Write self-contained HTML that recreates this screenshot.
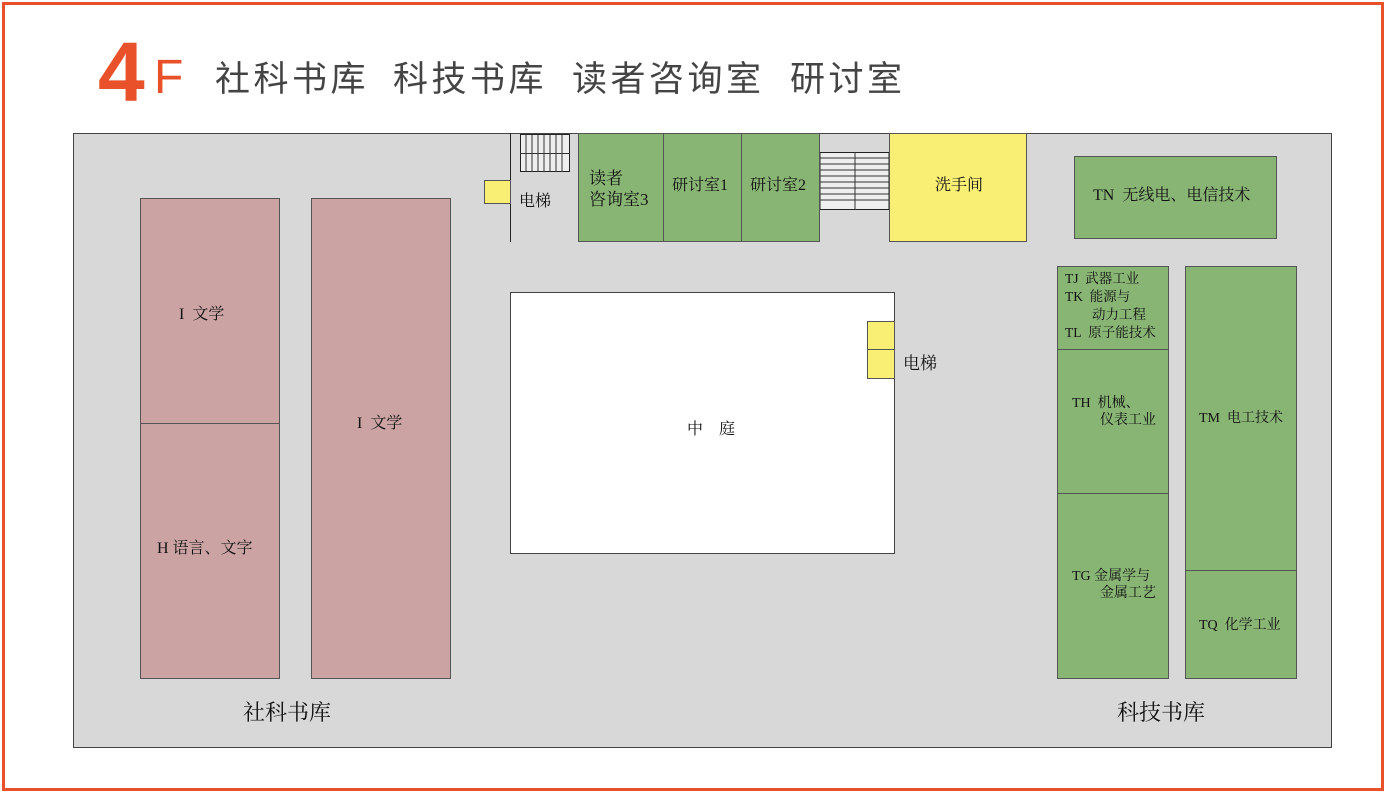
<!DOCTYPE html>
<html><head><meta charset="utf-8"><style>
body{margin:0;width:1387px;height:793px;position:relative;background:#fff;overflow:hidden;font-family:"Liberation Serif","Noto Serif CJK SC","Noto Sans CJK SC",serif;}
div{position:absolute;box-sizing:border-box;}
.t{font-size:15px;color:#111;white-space:nowrap;line-height:18px;}
.g{background:#88b574;border:1px solid #555;}
.r{background:#cba3a3;border:1px solid #555;}
.y{background:#f8ef74;border:1px solid #555;}
.h{top:59px;font-family:'Liberation Sans','Noto Sans CJK SC',sans-serif;font-size:35px;color:#444;line-height:42px;white-space:nowrap;letter-spacing:3.5px;}
</style></head><body>
<div style="left:2px;top:2px;width:1382px;height:789px;border:3px solid #e8512a;"></div>
<div style="left:98px;top:22px;font-family:'Liberation Sans',sans-serif;font-size:84px;font-weight:bold;color:#e8512a;line-height:100px;">4</div>
<div style="left:154px;top:48px;font-family:'Liberation Sans',sans-serif;font-size:48px;color:#e8512a;line-height:60px;">F</div>
<div class="h" style="left:215px;">社科书库</div>
<div class="h" style="left:393px;">科技书库</div>
<div class="h" style="left:572px;">读者咨询室</div>
<div class="h" style="left:790px;">研讨室</div>

<div style="left:73px;top:133px;width:1259px;height:615px;background:#d8d8d8;border:1px solid #444;"></div>
<div class="r" style="left:140px;top:198px;width:140px;height:481px;"></div>
<div style="left:140px;top:423px;width:140px;height:1px;background:#555;"></div>
<div class="r" style="left:311px;top:198px;width:140px;height:481px;"></div>
<div class="t" style="left:179px;top:306px;font-size:16px;">I&nbsp; 文学</div>
<div class="t" style="left:157px;top:540px;font-size:16px;">H 语言、文字</div>
<div class="t" style="left:357px;top:415px;font-size:16px;">I&nbsp; 文学</div>
<div class="t" style="left:243px;top:700px;font-size:22px;line-height:26px;">社科书库</div>
<div class="t" style="left:1117px;top:700px;font-size:22px;line-height:26px;">科技书库</div>
<div style="left:510px;top:133px;width:1px;height:109px;background:#222;"></div>
<div class="y" style="left:484px;top:180px;width:27px;height:24px;"></div>
<div class="t" style="left:519px;top:193px;font-size:16px;">电梯</div>
<svg style="position:absolute;left:520px;top:134px" width="51" height="40">
<rect x="0.5" y="0.5" width="49" height="37" fill="#eee" stroke="#222"/>
<g stroke="#333"><line x1="6" y1="0" x2="6" y2="38"/><line x1="12" y1="0" x2="12" y2="38"/><line x1="18" y1="0" x2="18" y2="38"/><line x1="24" y1="0" x2="24" y2="38"/><line x1="30" y1="0" x2="30" y2="38"/><line x1="36" y1="0" x2="36" y2="38"/><line x1="42" y1="0" x2="42" y2="38"/><line x1="0" y1="19.5" x2="50" y2="19.5"/></g></svg>
<div class="g" style="left:578px;top:133px;width:86px;height:109px;"></div>
<div class="g" style="left:663px;top:133px;width:79px;height:109px;"></div>
<div class="g" style="left:741px;top:133px;width:79px;height:109px;"></div>
<div class="t" style="left:589px;top:168px;font-size:17px;line-height:21px;">读者<br>咨询室3</div>
<div class="t" style="left:672px;top:177px;font-size:16px;">研讨室1</div>
<div class="t" style="left:750px;top:177px;font-size:16px;">研讨室2</div>
<svg style="position:absolute;left:820px;top:152px" width="70" height="59">
<rect x="0" y="0.5" width="69" height="57" fill="#eee" stroke="#222"/>
<g stroke="#333"><line x1="0" y1="6" x2="70" y2="6"/><line x1="0" y1="12" x2="70" y2="12"/><line x1="0" y1="18" x2="70" y2="18"/><line x1="0" y1="24" x2="70" y2="24"/><line x1="0" y1="30" x2="70" y2="30"/><line x1="0" y1="36" x2="70" y2="36"/><line x1="0" y1="42" x2="70" y2="42"/><line x1="0" y1="48" x2="70" y2="48"/><line x1="35" y1="0" x2="35" y2="58"/></g></svg>
<div class="y" style="left:889px;top:133px;width:138px;height:109px;"></div>
<div class="t" style="left:935px;top:177px;font-size:16px;">洗手间</div>
<div class="g" style="left:1074px;top:156px;width:203px;height:83px;"></div>
<div class="t" style="left:1093px;top:187px;font-size:16px;">TN&nbsp; 无线电、电信技术</div>
<div style="left:510px;top:292px;width:385px;height:262px;background:#fff;border:1px solid #444;"></div>
<div class="t" style="left:687px;top:421px;font-size:16px;">中&nbsp;&nbsp;&nbsp;&nbsp;庭</div>
<div class="y" style="left:867px;top:321px;width:28px;height:29px;"></div>
<div class="y" style="left:867px;top:349px;width:28px;height:30px;"></div>
<div class="t" style="left:903px;top:355px;font-size:17px;">电梯</div>
<div class="g" style="left:1057px;top:266px;width:112px;height:413px;"></div>
<div style="left:1057px;top:349px;width:112px;height:1px;background:#555;"></div>
<div style="left:1057px;top:493px;width:112px;height:1px;background:#555;"></div>
<div class="g" style="left:1185px;top:266px;width:112px;height:413px;"></div>
<div style="left:1185px;top:570px;width:112px;height:1px;background:#555;"></div>
<div class="t" style="left:1065px;top:270px;font-size:13.5px;line-height:18px;">TJ&nbsp; 武器工业<br>TK&nbsp; 能源与<br>&nbsp;&nbsp;&nbsp;&nbsp;&nbsp;&nbsp;&nbsp; 动力工程<br>TL&nbsp; 原子能技术</div>
<div class="t" style="left:1072px;top:395px;font-size:14px;line-height:17px;">TH&nbsp; 机械、<br>&nbsp;&nbsp;&nbsp;&nbsp;&nbsp;&nbsp;&nbsp; 仪表工业</div>
<div class="t" style="left:1072px;top:568px;font-size:14px;line-height:17px;">TG 金属学与<br>&nbsp;&nbsp;&nbsp;&nbsp;&nbsp;&nbsp;&nbsp; 金属工艺</div>
<div class="t" style="left:1199px;top:410px;font-size:14px;">TM&nbsp; 电工技术</div>
<div class="t" style="left:1199px;top:617px;font-size:14px;">TQ&nbsp; 化学工业</div>
</body></html>
